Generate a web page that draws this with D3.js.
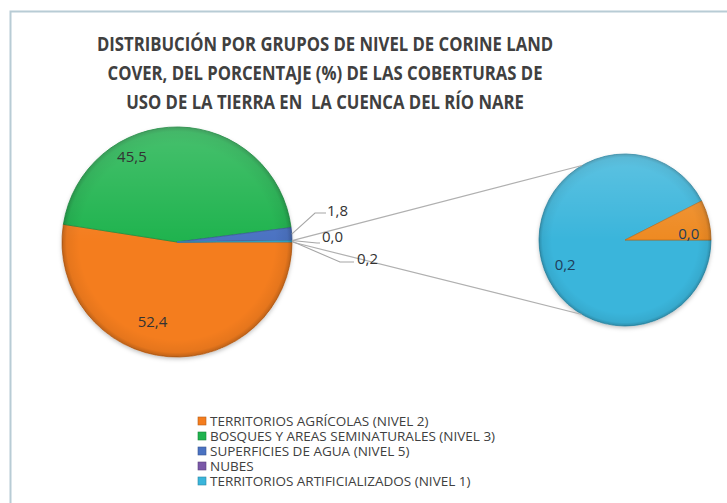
<!DOCTYPE html>
<html><head><meta charset="utf-8">
<script src="https://cdn.jsdelivr.net/npm/d3@7/dist/d3.min.js"></script>
<style>
html,body{margin:0;padding:0;background:#fff;}
svg{display:block;}
</style></head>
<body>
<svg id="chart" width="727" height="503"></svg>
<script>
// ---------- DATA ----------
const titleLines = [
  "DISTRIBUCIÓN POR GRUPOS DE NIVEL DE CORINE LAND",
  "COVER, DEL PORCENTAJE (%) DE LAS COBERTURAS DE",
  "USO DE LA TIERRA EN  LA CUENCA DEL RÍO NARE"
];
const categories = [
  "TERRITORIOS AGRÍCOLAS (NIVEL 2)",
  "BOSQUES Y AREAS SEMINATURALES (NIVEL 3)",
  "SUPERFICIES DE AGUA (NIVEL 5)",
  "NUBES",
  "TERRITORIOS ARTIFICIALIZADOS (NIVEL 1)"
];
const colors = ["#f47d1e", "#1fb34e", "#4a72c2", "#7a58a8", "#3ab5db"];
// main pie: the four first categories + "other" (= secondary pie total)
const mainNames  = ["TERRITORIOS AGRÍCOLAS (NIVEL 2)", "BOSQUES Y AREAS SEMINATURALES (NIVEL 3)", "SUPERFICIES DE AGUA (NIVEL 5)", "NUBES", "OTRO"];
const mainValues = [52.4, 45.5, 1.8, 0.0, 0.2];
const mainLabels = ["52,4", "45,5", "1,8", "0,0", "0,2"];
// secondary pie (breakdown of "other")
const secNames  = ["TERRITORIOS ARTIFICIALIZADOS (NIVEL 1)", "OTROS"];
const secValues = [0.185, 0.015];
const secLabels = ["0,2", "0,0"];
const secColors = ["#3ab5db", "#ee8a22"];

// ---------- LAYOUT ----------
const svg = d3.select("#chart");
const W = 727, H = 503;
const FONT = "'Open Sans',Arial,sans-serif";

// defs
const defs = svg.append("defs");
const sh = defs.append("filter").attr("id","shadow").attr("x","-20%").attr("y","-20%").attr("width","140%").attr("height","140%");
sh.append("feDropShadow").attr("dx",0).attr("dy",2).attr("stdDeviation",2).attr("flood-color","#000").attr("flood-opacity",0.25);
const bev = defs.append("radialGradient").attr("id","bevel").attr("cx","50%").attr("cy","50%").attr("r","50%");
bev.append("stop").attr("offset","0.85").attr("stop-color","#000").attr("stop-opacity",0);
bev.append("stop").attr("offset","0.96").attr("stop-color","#000").attr("stop-opacity",0.06);
bev.append("stop").attr("offset","1").attr("stop-color","#000").attr("stop-opacity",0.22);
const hl = defs.append("linearGradient").attr("id","hl").attr("x1",0).attr("y1",0).attr("x2",0).attr("y2",1);
hl.append("stop").attr("offset","0").attr("stop-color","#fff").attr("stop-opacity",0.18);
hl.append("stop").attr("offset","0.5").attr("stop-color","#fff").attr("stop-opacity",0);

// frame
svg.append("rect").attr("x",10.5).attr("y",11.5).attr("width",W).attr("height",H)
  .attr("fill","none").attr("stroke","#b8ccd5").attr("stroke-width",2);

// title (condensed look via horizontal scale)
svg.append("g").attr("transform","translate(325,0) scale(0.835,1)")
  .selectAll("text").data(titleLines).join("text")
  .attr("x", 0).attr("y", (d,i)=> 51 + i*29)
  .attr("text-anchor","middle")
  .style("white-space","pre")
  .attr("font-family", FONT).attr("font-weight","bold").attr("font-size", 20)
  .attr("fill","#404040")
  .text(d=>d);

// main pie
const mainC = {x:177, y:242}, mainR = 115;
const pieMain = d3.pie().sort(null).value(d=>d).startAngle(Math.PI/2).endAngle(Math.PI/2 + 2*Math.PI);
const mainArcs = pieMain(mainValues);
const arcMain = d3.arc().innerRadius(0).outerRadius(mainR);
const gMain = svg.append("g").attr("transform",`translate(${mainC.x},${mainC.y})`);
gMain.append("circle").attr("r",mainR).attr("fill","#fff").attr("filter","url(#shadow)");
gMain.selectAll("path.slice").data(mainArcs).join("path").attr("class","slice")
  .attr("d", arcMain)
  .attr("fill", (d,i)=> i < 4 ? colors[i] : colors[4])
  .attr("stroke", (d,i)=> d3.color(i < 4 ? colors[i] : colors[4]).darker(0.6))
  .attr("stroke-width", 0.8);
gMain.append("circle").attr("r",mainR).attr("fill","url(#bevel)");
gMain.append("circle").attr("r",mainR).attr("fill","url(#hl)");

// secondary pie
const secC = {x:625, y:240}, secR = 86;
const pieSec = d3.pie().sort(null).value(d=>d).startAngle(Math.PI/2).endAngle(Math.PI/2 + 2*Math.PI);
const secArcs = pieSec(secValues);
const arcSec = d3.arc().innerRadius(0).outerRadius(secR);
const gSec = svg.append("g").attr("transform",`translate(${secC.x},${secC.y})`);
gSec.append("circle").attr("r",secR).attr("fill","#fff").attr("filter","url(#shadow)");
gSec.selectAll("path.slice").data(secArcs).join("path").attr("class","slice")
  .attr("d", arcSec)
  .attr("fill", (d,i)=> secColors[i])
  .attr("stroke", (d,i)=> d3.color(secColors[i]).darker(0.6))
  .attr("stroke-width", 0.8);
gSec.append("circle").attr("r",secR).attr("fill","url(#bevel)");
gSec.append("circle").attr("r",secR).attr("fill","url(#hl)");

// connector lines (main "other" slice -> secondary pie)
const other = mainArcs[4];
const pt = (c, r, a) => [c.x + r*Math.sin(a), c.y - r*Math.cos(a)];
const conn = [
  [pt(mainC, mainR, other.startAngle), pt(secC, secR, -Math.PI/6)],
  [pt(mainC, mainR, other.endAngle),   pt(secC, secR, Math.PI + Math.PI/6)]
];
svg.append("g").selectAll("line").data(conn).join("line")
  .attr("x1",d=>d[0][0]).attr("y1",d=>d[0][1]).attr("x2",d=>d[1][0]).attr("y2",d=>d[1][1])
  .attr("stroke","#b0b0b0").attr("stroke-width",1.2);

// main labels
const labelStyle = sel => sel.attr("font-family",FONT).attr("font-size",15).attr("fill","#333");
// inside labels (polar offsets from centre: [angle deg clockwise from 12, radius])
const insideLayout = {0:[197,84], 1:[332,96]};
Object.entries(insideLayout).forEach(([i,[a,r]])=>{
  const p = pt(mainC, r, a*Math.PI/180);
  svg.append("text").attr("x",p[0]).attr("y",p[1]+5).attr("text-anchor","middle")
    .call(labelStyle).text(mainLabels[+i]);
});
// outside labels with leader lines: [elbow x, elbow y, end x, text x, text y]
const outsideLayout = {2:[315,213,326,327,216], 3:[317,243,320,322,242], 4:[340,262,354,357,264]};
Object.entries(outsideLayout).forEach(([i,[ex,ey,endx,tx,ty]])=>{
  const d = mainArcs[+i];
  const a = (d.startAngle + d.endAngle)/2;
  const p = pt(mainC, mainR, a);
  svg.append("polyline").attr("points",`${p[0]},${p[1]} ${ex},${ey} ${endx},${ey}`)
    .attr("fill","none").attr("stroke","#a6a6a6").attr("stroke-width",1.1);
  svg.append("text").attr("x",tx).attr("y",ty).call(labelStyle).text(mainLabels[+i]);
});

// secondary labels
const secLayout = [[247,65],[85,64]];
secArcs.forEach((d,i)=>{
  const p = pt(secC, secLayout[i][1], secLayout[i][0]*Math.PI/180);
  svg.append("text").attr("x",p[0]).attr("y",p[1]+5).attr("text-anchor","middle")
    .attr("font-family",FONT).attr("font-size",15).attr("fill","#1f3d5a").text(secLabels[i]);
});

// legend
const leg = svg.append("g").attr("transform","translate(198,0)");
const rows = leg.selectAll("g").data(categories).join("g")
  .attr("transform",(d,i)=>`translate(0,${421 + i*15})`);
rows.append("rect").attr("x",0).attr("y",-4).attr("width",8).attr("height",8)
  .attr("fill",(d,i)=>colors[i]).attr("stroke",(d,i)=>d3.color(colors[i]).darker(0.8)).attr("stroke-width",0.6);
rows.append("text").attr("x",12).attr("y",4.5)
  .attr("font-family",FONT).attr("font-size",13.5).attr("fill","#404040").text(d=>d);
</script>
</body></html>
